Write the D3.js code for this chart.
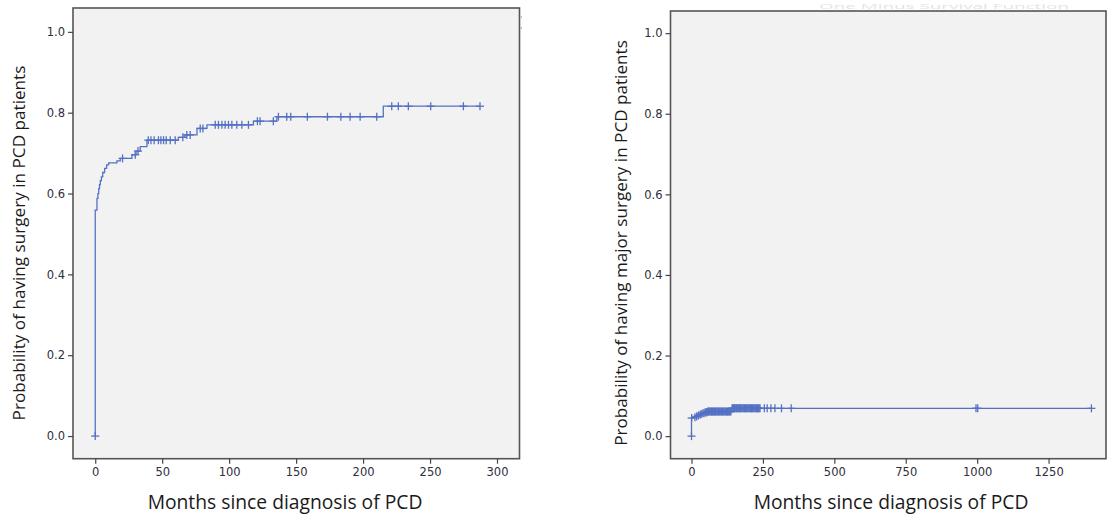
<!DOCTYPE html>
<html>
<head>
<meta charset="utf-8">
<script src="https://cdn.jsdelivr.net/npm/d3@7/dist/d3.min.js"></script>
<style>
  html, body { margin: 0; padding: 0; background: #ffffff; }
  svg { display: block; }
</style>
</head>
<body>
<svg id="chart" width="1107" height="517"></svg>
<script>
// ---------- DATA ----------
// Left panel: probability of having surgery (step points: [months, probability])
const surgerySteps = [
  [0, 0.0], [0, 0.559], [1.3, 0.588], [2.0, 0.600], [2.6, 0.612], [3.2, 0.622],
  [3.8, 0.632], [4.6, 0.641], [5.6, 0.652], [7.0, 0.662], [8.5, 0.671],
  [10, 0.676], [16.2, 0.681], [18.7, 0.687], [27.4, 0.696], [30.5, 0.705],
  [33.6, 0.716], [38.6, 0.732], [62, 0.739], [67, 0.745], [76, 0.761],
  [83.4, 0.770], [118.1, 0.779], [135.6, 0.790], [215.1, 0.816], [287.3, 0.816]
];
const surgeryCensored = [
  0, 20.4, 29.9, 31.9, 39.6, 41.6, 44, 47.2, 49, 51, 53, 56, 59.7, 65.4, 68.4,
  70.9, 78.4, 80.4, 89.6, 92, 94.6, 97, 99.5, 102, 105.7, 109.5, 114.4, 121.1,
  123.1, 133, 136.8, 143, 146, 158.4, 173.4, 183.4, 190.3, 197.8, 210.2, 221.4,
  226.3, 233.8, 250.5, 274.9, 287.3
];
// Right panel: probability of having major surgery
const majorSteps = [
  [0, 0.0], [0, 0.045], [8, 0.047], [14, 0.049], [20, 0.051], [26, 0.053],
  [32, 0.055], [38, 0.057], [45, 0.059], [55, 0.061], [140, 0.069], [1400, 0.069]
];
const majorCensored = [
  0, 0.5, 12, 18, 24, 30, 34, 40, 44, 48, 52, 54, 57, 60, 62, 65, 68, 70, 73, 76,
  78, 81, 84, 86, 89, 92, 95, 97, 100, 103, 106, 108, 111, 114, 117, 120, 123,
  126, 129, 132, 135, 138, 142, 145, 147, 150, 152, 155, 158, 160, 163, 166, 168,
  171, 174, 177, 180, 183, 186, 189, 192, 195, 198, 201, 204, 207, 210, 213, 216,
  219, 222, 225, 228, 231, 234, 237, 240, 255, 265, 278, 292, 315, 349, 996, 1002, 1400
];
const yTicks = [0, 0.2, 0.4, 0.6, 0.8, 1.0];
const leftXTicks = [0, 50, 100, 150, 200, 250, 300];
const rightXTicks = [0, 250, 500, 750, 1000, 1250];
const xTitle = "Months since diagnosis of PCD";
const leftYTitle = "Probability of having surgery in PCD patients";
const rightYTitle = "Probability of having major surgery in PCD patients";
const faintTitle = "One Minus Survival Function";

// ---------- DRAW ----------
const svg = d3.select("#chart");
const lineColor = "#5471c4";
const tickFont = "'DejaVu Sans', Verdana, sans-serif";
const titleFont = "'Open Sans', 'Noto Sans', sans-serif";

const panels = [
  {
    steps: surgerySteps, censored: surgeryCensored, xTicks: leftXTicks, yTitle: leftYTitle,
    box: {x0: 73, x1: 519.5, y0: 8, y1: 458.7},
    xDomain: [-16.6, 316.8], yDomain: [-0.056, 1.059],
    yTitleX: 19, yTitleLen: 355, xTitleX: 285
  },
  {
    steps: majorSteps, censored: majorCensored, xTicks: rightXTicks, yTitle: rightYTitle,
    box: {x0: 670.5, x1: 1106, y0: 11, y1: 458.7},
    xDomain: [-73.5, 1451], yDomain: [-0.056, 1.055],
    yTitleX: 621, yTitleLen: 406, xTitleX: 891
  }
];

panels.forEach((p, i) => {
  const b = p.box;
  const x = d3.scaleLinear().domain(p.xDomain).range([b.x0, b.x1]);
  const y = d3.scaleLinear().domain(p.yDomain).range([b.y1, b.y0]);
  const g = svg.append("g");

  // plot background
  g.append("rect")
    .attr("x", b.x0).attr("y", b.y0)
    .attr("width", b.x1 - b.x0).attr("height", b.y1 - b.y0)
    .attr("fill", "#f2f2f2");

  const clipId = "clip" + i;
  svg.append("clipPath").attr("id", clipId).append("rect")
    .attr("x", b.x0).attr("y", b.y0)
    .attr("width", b.x1 - b.x0).attr("height", b.y1 - b.y0);

  // step line
  const line = d3.line()
    .x(d => x(d[0])).y(d => y(d[1]))
    .curve(d3.curveStepAfter);
  g.append("path")
    .datum(p.steps)
    .attr("clip-path", `url(#${clipId})`)
    .attr("d", line)
    .attr("fill", "none")
    .attr("stroke", lineColor)
    .attr("stroke-width", 1.3);

  // censor marks
  const times = p.steps.map(d => d[0]);
  const valueAt = t => {
    const idx = d3.bisectLeft(times, t);
    return idx === 0 ? p.steps[0][1] : p.steps[idx - 1][1];
  };
  const cg = g.append("g").attr("stroke", lineColor).attr("stroke-width", 1.3);
  p.censored.forEach(t => {
    const cx = x(t), cy = y(valueAt(t));
    cg.append("line").attr("x1", cx - 4).attr("x2", cx + 4).attr("y1", cy).attr("y2", cy);
    cg.append("line").attr("x1", cx).attr("x2", cx).attr("y1", cy - 4).attr("y2", cy + 4);
  });

  // frame
  g.append("rect")
    .attr("x", b.x0).attr("y", b.y0)
    .attr("width", b.x1 - b.x0).attr("height", b.y1 - b.y0)
    .attr("fill", "none").attr("stroke", "#555").attr("stroke-width", 1.6);

  // axes
  const yAxis = d3.axisLeft(y).tickValues(yTicks).tickSize(5).tickPadding(3)
    .tickFormat(d3.format(".1f"));
  const ya = g.append("g").attr("transform", `translate(${b.x0},0)`).call(yAxis);
  const xAxis = d3.axisBottom(x).tickValues(p.xTicks).tickSize(5).tickPadding(4)
    .tickFormat(d3.format("d"));
  const xa = g.append("g").attr("transform", `translate(0,${b.y1})`).call(xAxis);
  [ya, xa].forEach(a => {
    a.select(".domain").remove();
    a.selectAll(".tick line").attr("stroke", "#444").attr("stroke-width", 1.2);
    a.selectAll(".tick text").attr("fill", "#2e2e3c")
      .style("font-family", tickFont).style("font-size", "11.5px");
  });

  // axis titles
  const xt = g.append("text")
    .attr("x", p.xTitleX).attr("y", 509)
    .attr("text-anchor", "middle")
    .attr("fill", "#1a1a1a")
    .style("font-family", titleFont).style("font-size", "17px")
    .text(xTitle);
  const yt = g.append("text")
    .attr("transform", `translate(${p.yTitleX + 6},243) rotate(-90)`)
    .attr("text-anchor", "middle")
    .attr("fill", "#1a1a1a")
    .style("font-family", titleFont).style("font-size", "17px")
    .text(p.yTitle);
  // fit widths
  const fit = (el, target) => {
    const len = el.node().getComputedTextLength();
    const fs = 17 * target / len;
    el.style("font-size", fs.toFixed(2) + "px");
  };
  fit(xt, 275);
  fit(yt, p.yTitleLen);
});

// faint chart title remnant above the right panel
svg.append("text")
  .attr("x", 944).attr("y", 9)
  .attr("text-anchor", "middle")
  .attr("fill", "#e4e4e4")
  .attr("textLength", 250).attr("lengthAdjust", "spacingAndGlyphs")
  .style("font-family", titleFont).style("font-size", "8px")
  .text(faintTitle);

// tiny remnants at top right of left panel
svg.append("rect").attr("x", 520).attr("y", 16).attr("width", 2).attr("height", 2).attr("fill", "#b8c4de");
svg.append("rect").attr("x", 520).attr("y", 27).attr("width", 2).attr("height", 2).attr("fill", "#b8c4de");
</script>
</body>
</html>
